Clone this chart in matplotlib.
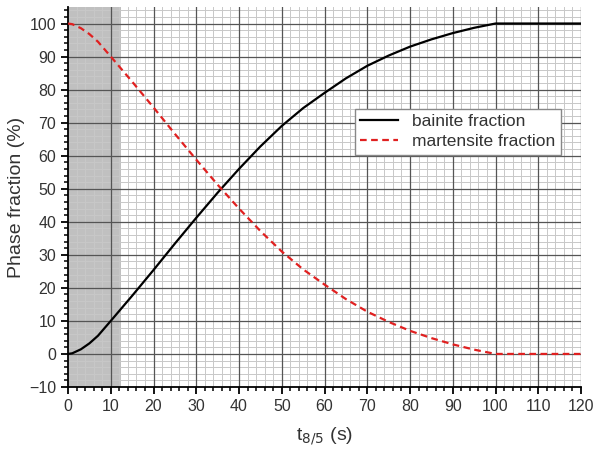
import matplotlib.pyplot as plt
from matplotlib.ticker import MultipleLocator

plt.rcParams['font.family'] = ['Liberation Sans', 'DejaVu Sans']

# t8/5 values (s) and phase fractions (%)
t = [0, 1, 3, 5, 7, 10, 15, 20, 25, 30, 35, 40, 45, 50, 55, 60, 65, 70, 75, 80, 85, 90, 95, 100, 110, 120]
bainite = [0, 0.2, 1.4, 3.2, 5.5, 10, 17.6, 25.4, 33.4, 41.2, 48.8, 56, 62.8, 69, 74.4, 79, 83.4, 87.2, 90.3, 93, 95.2, 97.1, 98.7, 100, 100, 100]
martensite = [100 - b for b in bainite]
shade_end = 12.5

fig = plt.figure(figsize=(5.93, 4.54), dpi=100)
ax = fig.add_axes([0.1147, 0.1476, 0.8651, 0.837])

ax.axvspan(0, shade_end, color='#c0c0c0', zorder=0, lw=0)
ax.plot(t, bainite, color='black', lw=1.6, label='bainite fraction', zorder=3)
ax.plot(t, martensite, color='#e02020', lw=1.6, ls=(0, (3, 2)), label='martensite fraction', zorder=3)

ax.set_xlim(0, 120)
ax.set_ylim(-10, 105)
ax.xaxis.set_major_locator(MultipleLocator(10))
ax.xaxis.set_minor_locator(MultipleLocator(2))
ax.yaxis.set_major_locator(MultipleLocator(10))
ax.yaxis.set_minor_locator(MultipleLocator(2))
ax.grid(which='minor', color='#c8c8c8', lw=0.7)
ax.set_axisbelow(True)
# major grid drawn on top of the minor one
for xv in ax.get_xticks():
    if 0 < xv <= 120:
        ax.axvline(xv, color='#555555', lw=0.9, zorder=1)
for yv in ax.get_yticks():
    if -10 < yv <= 105:
        ax.axhline(yv, color='#555555', lw=0.9, zorder=1)

for s in ['top', 'right']:
    ax.spines[s].set_visible(False)
ax.spines['left'].set_linewidth(1.3)
ax.spines['bottom'].set_linewidth(1.3)
ax.tick_params(which='major', direction='out', length=5, width=1.3, labelsize=11.5, labelcolor='#333333')
ax.tick_params(which='minor', direction='out', length=3, width=1.1)

ax.set_xlabel('t$_{8/5}$ (s)', fontsize=14, labelpad=8, color='#333333')
ax.set_ylabel('Phase fraction (%)', fontsize=14, labelpad=3, color='#333333')

leg = ax.legend(loc='upper right', bbox_to_anchor=(0.977, 0.755), fontsize=12.5, fancybox=False,
                framealpha=1, edgecolor='#888888', handlelength=2.2, borderpad=0.3, labelspacing=0.3)
leg.set_zorder(5)
for txt in leg.get_texts():
    txt.set_color('#333333')

fig.savefig('out.png', dpi=100)
